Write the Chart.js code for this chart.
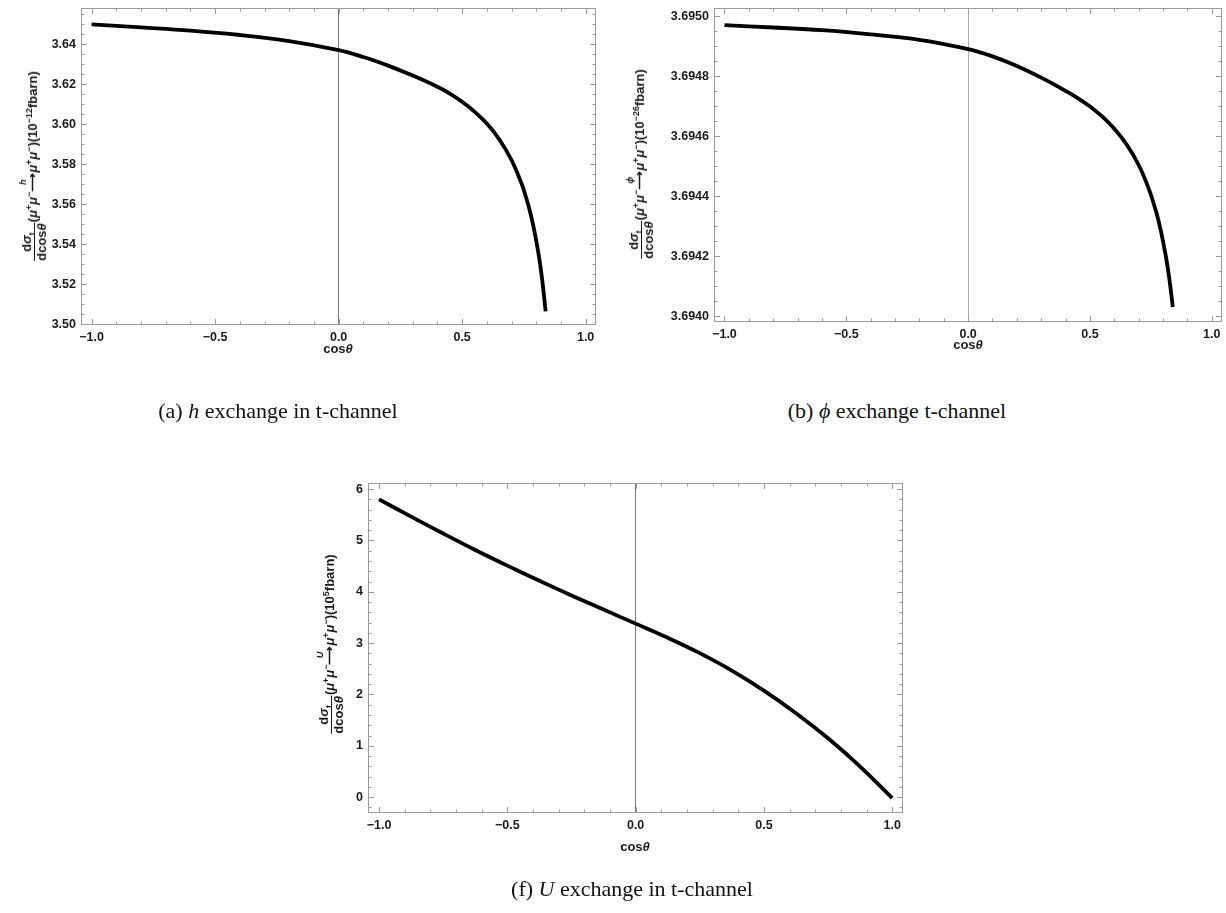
<!DOCTYPE html>
<html>
<head>
<meta charset="utf-8">
<script src="https://cdn.jsdelivr.net/npm/chart.js@4"></script>
<style>
  body { margin: 0; background: #fff; width: 1226px; height: 913px; position: relative; overflow: hidden;
         font-family: "Liberation Sans", Arial, sans-serif; color: #1a1a1a; }
  canvas { position: absolute; }
  .ylab { position: absolute; transform: translate(-50%, -50%) rotate(-90deg); white-space: nowrap;
          font-weight: bold; font-size: 13px; line-height: 13px; }
  .ylab sup, .ylab sub { font-size: 9px; line-height: 0; }
  .frac { display: inline-block; vertical-align: middle; text-align: center; margin-right: 1px; }
  .frac > span { display: block; line-height: 13px; }
  .frac .num { border-bottom: 1.3px solid #1a1a1a; padding: 0 1px 1px; }
  .over { display: inline-block; position: relative; }
  .over b { position: absolute; left: 0; right: 0; top: -9px; text-align: center; font-size: 9px; font-style: italic; }
  .xlab { position: absolute; transform: translateX(-50%); font-weight: bold; font-size: 13px; line-height: 14px; white-space: nowrap; }
  .cap { position: absolute; transform: translateX(-50%); font-family: "Liberation Serif", "Times New Roman", serif;
         font-size: 22px; line-height: 26px; white-space: nowrap; color: #111; }
</style>
</head>
<body>
<canvas id="chartH" width="610" height="370" style="left:0;top:0"></canvas>
<canvas id="chartPhi" width="616" height="370" style="left:610px;top:0"></canvas>
<canvas id="chartU" width="620" height="400" style="left:300px;top:470px"></canvas>

<div class="ylab" id="ylabH" style="left:34px;top:166px"></div>
<div class="ylab" id="ylabPhi" style="left:641px;top:164px"></div>
<div class="ylab" id="ylabU" style="left:331px;top:644px"></div>

<div class="xlab" style="left:338px;top:342px">cos<i>θ</i></div>
<div class="xlab" style="left:968px;top:338px">cos<i>θ</i></div>
<div class="xlab" style="left:635px;top:840px">cos<i>θ</i></div>

<div class="cap" style="left:278px;top:398px">(a) <i>h</i> exchange in t-channel</div>
<div class="cap" style="left:897px;top:398px">(b) <i>ϕ</i> exchange t-channel</div>
<div class="cap" style="left:632px;top:876px">(f) <i>U</i> exchange in t-channel</div>

<script>
// t-channel h exchange, dσ/dcosθ in 1e-12 fbarn
const cosH = [-1, -0.8, -0.6, -0.4, -0.2, 0, 0.1, 0.2, 0.3, 0.4, 0.45, 0.5, 0.55, 0.6, 0.65, 0.7, 0.74, 0.77, 0.79, 0.81, 0.825, 0.838];
const sigH = [3.6500, 3.6485, 3.6469, 3.6447, 3.6416, 3.6371, 3.6337, 3.6294, 3.6244, 3.6188, 3.6154, 3.6113,
              3.6064, 3.6004, 3.5926, 3.5822, 3.5706, 3.5587, 3.5483, 3.5348, 3.5215, 3.5065];

// t-channel phi exchange, in 1e-26 fbarn
const cosPhi = [-1, -0.8, -0.6, -0.4, -0.2, 0, 0.1, 0.2, 0.3, 0.4, 0.45, 0.5, 0.55, 0.6, 0.65, 0.7, 0.74, 0.77, 0.79, 0.81, 0.825, 0.84];
const sigPhi = [3.694970, 3.694962, 3.694953, 3.694939, 3.694921, 3.694890, 3.694866, 3.694834, 3.694795, 3.694751, 3.694727, 3.694699,
                3.694666, 3.694625, 3.694573, 3.694504, 3.694428, 3.694353, 3.694289, 3.694207, 3.694130, 3.694031];

// t-channel U exchange, in 1e5 fbarn
const cosU = [-1, -0.875, -0.75, -0.625, -0.5, -0.375, -0.25, -0.125, 0, 0.125, 0.25, 0.375, 0.5, 0.625, 0.75, 0.875, 1];
const sigU = [5.800, 5.465, 5.135, 4.815, 4.510, 4.215, 3.930, 3.653, 3.380, 3.105, 2.805, 2.465, 2.075, 1.635, 1.145, 0.595, -0.020];

// tick labels
const xTickVals = [-1, -0.5, 0, 0.5, 1];
const yTicksH = [3.50, 3.52, 3.54, 3.56, 3.58, 3.60, 3.62, 3.64];
const yTicksPhi = [3.6940, 3.6942, 3.6944, 3.6946, 3.6948, 3.6950];
const yTicksU = [0, 1, 2, 3, 4, 5, 6];

function fmt(v, d) {
  const s = Math.abs(v).toFixed(d);
  return v < -1e-12 ? '\u2212' + s : s;
}

function yLabel(sym, exp) {
  return '<span class="frac"><span class="num">d<i>σ</i><sub>t</sub></span><span>dcos<i>θ</i></span></span>' +
    '(<i>μ</i><sup>+</sup><i>μ</i><sup>\u2212</sup><span class="over"><b>' + sym + '</b>⟶</span>' +
    '<i>μ</i><sup>+</sup><i>μ</i><sup>\u2212</sup>)(10<sup>' + exp + '</sup>fbarn)';
}
document.getElementById('ylabH').innerHTML = yLabel('h', '\u221212');
document.getElementById('ylabPhi').innerHTML = yLabel('ϕ', '\u221226');
document.getElementById('ylabU').innerHTML = yLabel('U', '5');

// Mathematica-style frame: gray box with inward ticks on all four sides
const frameTicks = {
  id: 'frameTicks',
  beforeDatasetsDraw(chart, args, o) {
    const {ctx, chartArea: a} = chart;
    const sx = chart.scales.x, sy = chart.scales.y;
    ctx.save();
    ctx.strokeStyle = o.color;
    ctx.lineWidth = 1;
    ctx.strokeRect(a.left + 0.5, a.top + 0.5, a.width - 1, a.height - 1);
    ctx.beginPath();
    const marks = (scale, step, len, horiz) => {
      const n0 = Math.ceil(scale.min / step - 1e-6), n1 = Math.floor(scale.max / step + 1e-6);
      for (let n = n0; n <= n1; n++) {
        const p = Math.round(scale.getPixelForValue(n * step)) + 0.5;
        if (horiz) {
          ctx.moveTo(p, a.bottom); ctx.lineTo(p, a.bottom - len);
          ctx.moveTo(p, a.top); ctx.lineTo(p, a.top + len);
        } else {
          ctx.moveTo(a.left, p); ctx.lineTo(a.left + len, p);
          ctx.moveTo(a.right, p); ctx.lineTo(a.right - len, p);
        }
      }
    };
    marks(sx, o.xMinor, 3.5, true);
    marks(sx, o.xMajor, 6, true);
    marks(sy, o.yMinor, 3.5, false);
    marks(sy, o.yMajor, 6, false);
    ctx.stroke();
    ctx.restore();
  }
};

const tickFont = {family: '"Liberation Sans", Arial, sans-serif', weight: 'bold', size: 12.5};

function makeChart(id, xs, ys, p) {
  return new Chart(document.getElementById(id), {
    type: 'line',
    data: {
      datasets: [{
        data: xs.map((x, i) => ({x: x, y: ys[i]})),
        borderColor: '#000',
        borderWidth: 3.8,
        pointRadius: 0,
        fill: false,
        tension: 0.4
      }]
    },
    options: {
      responsive: false,
      animation: false,
      layout: {padding: {left: 0, top: p.padTop, right: p.padRight, bottom: 0}},
      plugins: {
        legend: {display: false},
        tooltip: {enabled: false},
        frameTicks: {color: '#9a9a9a', xMajor: 0.5, xMinor: 0.1, yMajor: p.yMajor, yMinor: p.yMinor}
      },
      scales: {
        x: {
          type: 'linear',
          min: -1.043, max: 1.042,
          afterBuildTicks: s => { s.ticks = xTickVals.map(v => ({value: v})); },
          afterFit: s => { s.height = p.xHeight; s.paddingLeft = 0; s.paddingRight = 0; },
          ticks: {font: tickFont, color: '#1a1a1a', padding: 5, maxRotation: 0, autoSkip: false,
                  callback: v => fmt(v, 1)},
          grid: {drawTicks: false, lineWidth: 1,
                 color: c => (c.tick && Math.abs(c.tick.value) < 1e-9) ? p.axisColor : 'rgba(0,0,0,0)'},
          border: {display: false}
        },
        y: {
          type: 'linear',
          min: p.yMin, max: p.yMax,
          afterBuildTicks: s => { s.ticks = p.yTicks.map(v => ({value: v})); },
          afterFit: s => { s.width = p.yWidth; s.paddingTop = 0; s.paddingBottom = 0; },
          ticks: {font: tickFont, color: '#1a1a1a', padding: 5, autoSkip: false,
                  callback: v => fmt(v, p.digits)},
          grid: {display: false, drawTicks: false},
          border: {display: false}
        }
      }
    },
    plugins: [frameTicks]
  });
}

makeChart('chartH', cosH, sigH, {
  yMin: 3.4997, yMax: 3.6582, yTicks: yTicksH, yMajor: 0.02, yMinor: 0.005, digits: 2,
  yWidth: 81, xHeight: 45, padTop: 8, padRight: 14, axisColor: '#7a7a7a'
});
makeChart('chartPhi', cosPhi, sigPhi, {
  yMin: 3.693981, yMax: 3.695027, yTicks: yTicksPhi, yMajor: 0.0002, yMinor: 0.00005, digits: 4,
  yWidth: 104, xHeight: 48, padTop: 8, padRight: 4, axisColor: '#ababab'
});
makeChart('chartU', cosU, sigU, {
  yMin: -0.31, yMax: 6.12, yTicks: yTicksU, yMajor: 1, yMinor: 0.2, digits: 0,
  yWidth: 68, xHeight: 57, padTop: 13, padRight: 17, axisColor: '#7a7a7a'
});
</script>
</body>
</html>
